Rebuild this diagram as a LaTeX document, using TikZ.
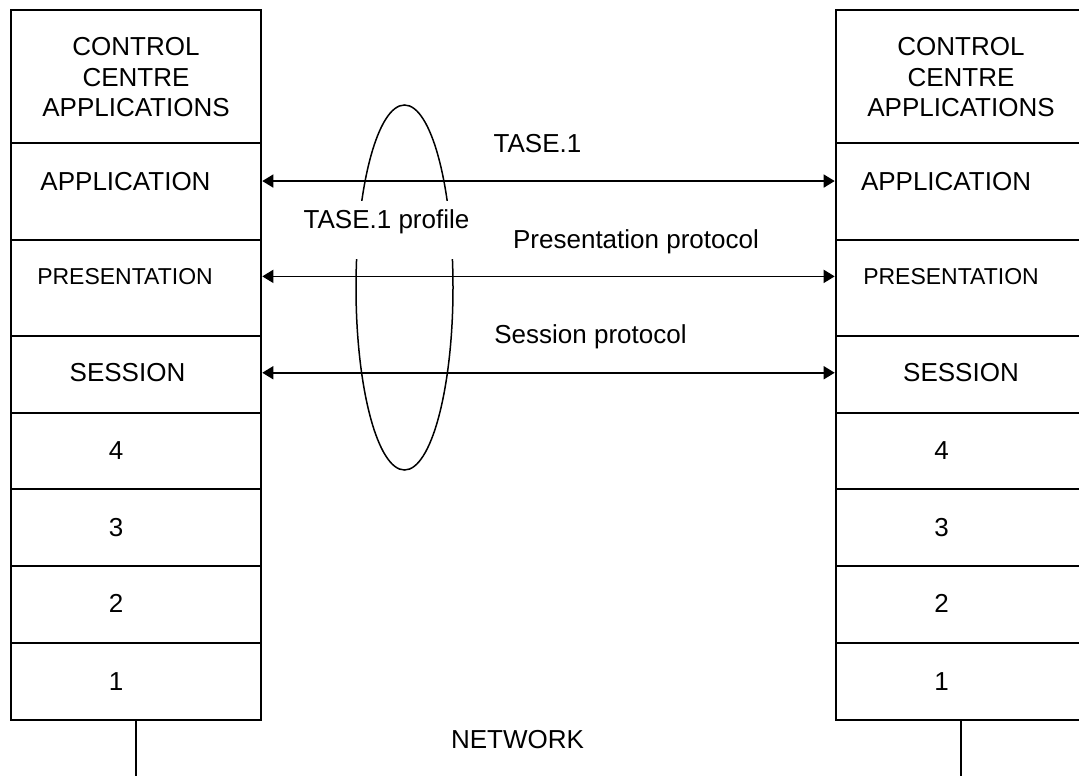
\documentclass[tikz,border=0pt]{standalone}
\usepackage{fontspec}
\setmainfont{Liberation Sans}
\usetikzlibrary{positioning,shapes.geometric,arrows.meta}

\begin{document}
\begin{tikzpicture}[x=1pt,y=-1pt,
		font=\fontsize{26}{30.5}\selectfont,
		layer/.style={draw, line width=2.6pt, minimum width=250pt, inner sep=0pt},
		txt/.style={inner sep=0pt, anchor=base},
		small/.style={font=\fontsize{23}{27}\selectfont},
		proto/.style={line width=1.5pt, {Triangle[length=11pt,width=13pt]}-{Triangle[length=11pt,width=13pt]}},
		net/.style={line width=2.4pt}]
				\useasboundingbox (0,0) rectangle (1079,776);
				% the two protocol stacks
				\foreach \n/\yc/\h in {cc/76.5/133, app/191.5/97, pres/288/96, sess/374.5/77, four/451/76, three/527.5/77, two/604.5/77, one/681.5/77} {
					\node[layer, minimum height=\h pt] (l\n) at (136, \yc) {};
					\node[layer, minimum height=\h pt] (r\n) at (961, \yc) {};
				}
				\node[align=center, inner sep=0pt] (lcctxt) at (136, 77.5) {CONTROL\\CENTRE\\APPLICATIONS};
				\node[align=center, inner sep=0pt] (rcctxt) at (961, 77.5) {CONTROL\\CENTRE\\APPLICATIONS};
				\node[txt] (lapptxt) at (125.5, 190) {APPLICATION};
				\node[txt] (rapptxt) at (946, 190) {APPLICATION};
				\node[txt, small] (lprestxt) at (125, 284.3) {PRESENTATION};
				\node[txt, small] (rprestxt) at (951, 284.3) {PRESENTATION};
				\node[txt] (lsesstxt) at (127.5, 381.7) {SESSION};
				\node[txt] (rsesstxt) at (961, 381.7) {SESSION};
				\node[txt] (lfourtxt) at (116, 459) {4};
				\node[txt] (rfourtxt) at (941.5, 459) {4};
				\node[txt] (lthreetxt) at (116, 536) {3};
				\node[txt] (rthreetxt) at (941.5, 536) {3};
				\node[txt] (ltwotxt) at (116, 612.7) {2};
				\node[txt] (rtwotxt) at (941.5, 612.7) {2};
				\node[txt] (lonetxt) at (116, 690) {1};
				\node[txt] (ronetxt) at (941.5, 690) {1};
				% peer protocols
				\draw[proto] (lapp.east |- lapptxt) -- (rapp.west |- lapptxt);
				\draw[proto] (lpres.east |- lprestxt) -- (rpres.west |- lprestxt);
				\draw[proto] (lsess.east |- lsesstxt) -- (rsess.west |- lsesstxt);
				\node[txt] (tase) at (537.5, 152) {TASE.1};
				\node[txt] (presproto) at (636, 248) {Presentation protocol};
				\node[txt] (sessproto) at (590.5, 343) {Session protocol};
				% profile
				\node[draw, ellipse, line width=1.5pt, minimum width=97pt, minimum height=365pt, inner sep=0pt] (prof) at (404.5, 287.5) {};
				\node[txt, fill=white, text height=27pt, text depth=31pt] (proftxt) at (386.5, 228) {TASE.1 profile};
				% network
				\coordinate (lnet) at (136, 776);
				\coordinate (rnet) at (961, 776);
				\draw[net] (lone.south) -- (lnet);
				\draw[net] (rone.south) -- (rnet);
				\node[txt] (network) at (517.5, 748) {NETWORK};
\end{tikzpicture}
\end{document}
